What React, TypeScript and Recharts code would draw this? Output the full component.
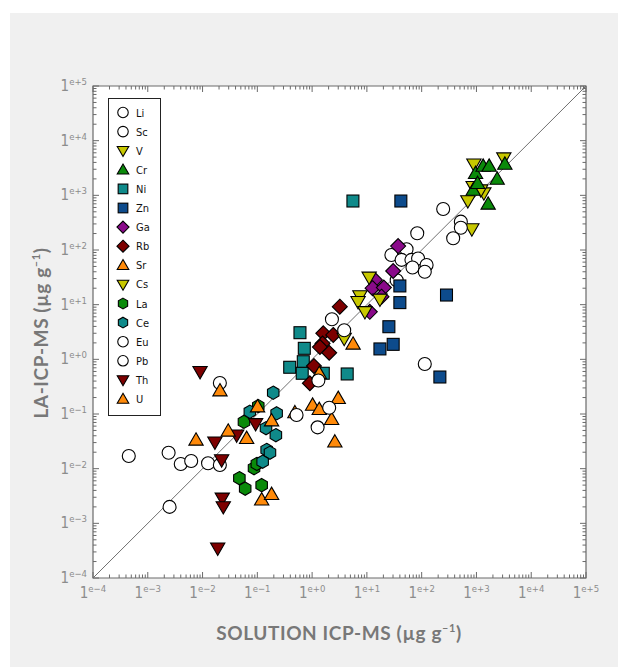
import React from "react";
import { CartesianGrid, Legend, ReferenceArea, Scatter, ScatterChart, XAxis, YAxis } from "recharts";

// values (µg/g), x = solution ICP-MS, y = LA-ICP-MS
const li = [
  { x: 28, y: 81 },
  { x: 53, y: 103 },
  { x: 43, y: 66 },
  { x: 65, y: 66 },
  { x: 86, y: 70 },
];
const sc = [
  { x: 68, y: 48 },
  { x: 123, y: 53 },
  { x: 114, y: 40 },
  { x: 35, y: 28 },
  { x: 114, y: 0.82 },
];
const v = [
  { x: 3160, y: 4800 },
  { x: 898, y: 3700 },
  { x: 1365, y: 1100 },
  { x: 1200, y: 1250 },
  { x: 697, y: 790 },
  { x: 824, y: 242 },
  { x: 870, y: 1440 },
];
const cr = [
  { x: 963, y: 2530 },
  { x: 1325, y: 3440 },
  { x: 1706, y: 3440 },
  { x: 3300, y: 3740 },
  { x: 2390, y: 1990 },
  { x: 871, y: 1250 },
  { x: 1050, y: 1660 },
  { x: 1636, y: 695 },
];
const ni = [
  { x: 5.56, y: 787 },
  { x: 0.6, y: 3.07 },
  { x: 0.72, y: 1.59 },
  { x: 0.69, y: 0.905 },
  { x: 0.39, y: 0.716 },
  { x: 0.66, y: 0.556 },
  { x: 1.6, y: 0.556 },
  { x: 4.37, y: 0.54 },
];
const zn = [
  { x: 41.7, y: 787 },
  { x: 40, y: 22 },
  { x: 40, y: 10.9 },
  { x: 284, y: 15 },
  { x: 25.2, y: 3.95 },
  { x: 17.3, y: 1.55 },
  { x: 30.2, y: 1.88 },
  { x: 215, y: 0.475 },
];
const ga = [
  { x: 37.2, y: 118 },
  { x: 30.2, y: 41.3 },
  { x: 14, y: 28.3 },
  { x: 12.7, y: 20 },
  { x: 20.4, y: 20.5 },
  { x: 18.5, y: 14 },
  { x: 11.3, y: 7.4 },
];
const rb = [
  { x: 3.2, y: 9.2 },
  { x: 1.6, y: 3.0 },
  { x: 2.43, y: 2.79 },
  { x: 1.55, y: 1.95 },
  { x: 1.39, y: 1.68 },
  { x: 2.05, y: 1.32 },
  { x: 1.08, y: 0.755 },
  { x: 0.91, y: 0.365 },
];
const sr = [
  { x: 5.6, y: 1.91 },
  { x: 1.35, y: 0.556 },
  { x: 3.0, y: 0.194 },
  { x: 2.27, y: 0.08 },
  { x: 2.6, y: 0.031 },
  { x: 1.02, y: 0.146 },
  { x: 1.35, y: 0.122 },
  { x: 0.485, y: 0.106 },
];
const cs = [
  { x: 11, y: 31.7 },
  { x: 7.45, y: 14.4 },
  { x: 6.9, y: 11.3 },
  { x: 9.2, y: 7.4 },
  { x: 17.3, y: 12.5 },
  { x: 3.85, y: 2.4 },
];
const la = [
  { x: 0.057, y: 0.072 },
  { x: 0.104, y: 0.14 },
  { x: 0.047, y: 0.0067 },
  { x: 0.06, y: 0.0043 },
  { x: 0.12, y: 0.005 },
  { x: 0.087, y: 0.0102 },
  { x: 0.098, y: 0.0122 },
];
const ce = [
  { x: 0.195, y: 0.245 },
  { x: 0.073, y: 0.11 },
  { x: 0.225, y: 0.103 },
  { x: 0.144, y: 0.055 },
  { x: 0.218, y: 0.041 },
  { x: 0.148, y: 0.022 },
  { x: 0.17, y: 0.0196 },
  { x: 0.125, y: 0.0134 },
];
const eu = [
  { x: 0.00045, y: 0.017 },
  { x: 0.0024, y: 0.0195 },
  { x: 0.004, y: 0.0122 },
  { x: 0.0062, y: 0.0138 },
  { x: 0.0126, y: 0.0126 },
  { x: 0.0207, y: 0.0117 },
  { x: 0.0025, y: 0.002 },
  { x: 0.0207, y: 0.37 },
  { x: 0.52, y: 0.096 },
  { x: 1.26, y: 0.057 },
  { x: 2.05, y: 0.13 },
  { x: 1.3, y: 0.41 },
];
const pb = [
  { x: 247, y: 562 },
  { x: 83, y: 202 },
  { x: 519, y: 330 },
  { x: 519, y: 256 },
  { x: 376, y: 164 },
  { x: 2.3, y: 5.4 },
  { x: 3.85, y: 3.4 },
];
const th = [
  { x: 0.009, y: 0.594 },
  { x: 0.0168, y: 0.0304 },
  { x: 0.0223, y: 0.0144 },
  { x: 0.042, y: 0.041 },
  { x: 0.093, y: 0.066 },
  { x: 0.0229, y: 0.00287 },
  { x: 0.0239, y: 0.002 },
  { x: 0.0189, y: 0.00035 },
];
const u = [
  { x: 0.0208, y: 0.267 },
  { x: 0.101, y: 0.136 },
  { x: 0.0076, y: 0.0335 },
  { x: 0.0294, y: 0.049 },
  { x: 0.0638, y: 0.036 },
  { x: 0.182, y: 0.0755 },
  { x: 0.12, y: 0.0027 },
  { x: 0.182, y: 0.0034 },
];
const oneToOne = [
  { x: 1e-4, y: 1e-4 },
  { x: 1e5, y: 1e5 },
];

const majorTicks = [1e-4, 1e-3, 1e-2, 1e-1, 1, 1e1, 1e2, 1e3, 1e4, 1e5];
const tickLabels = ["e\u22124", "e\u22123", "e\u22122", "e\u22121", "e+0", "e+1", "e+2", "e+3", "e+4", "e+5"];
const allTicks = majorTicks.flatMap((t, i) =>
  i === majorTicks.length - 1 ? [t] : [1, 2, 3, 4, 5, 6, 7, 8, 9].map((m) => m * t)
);

const W = 618;
const H = 667;
const X_AXIS_H = 30;
const Y_AXIS_W = 40;
const M = { top: 86, right: 32, bottom: 89 - X_AXIS_H, left: 93 - Y_AXIS_W };
const PW = W - 93 - M.right;
const PH = H - M.top - 89;
const AXIS = "#6a6a6a";
const TICK_FONT = "'Liberation Sans Narrow', 'DejaVu Sans Condensed', 'Arial Narrow', Arial, sans-serif";

type Kind = "circle" | "up" | "down" | "square" | "diamond" | "hex";

const series: { name: string; data: any[]; kind: Kind; fill: string }[] = [
  { name: "Li", data: li, kind: "circle", fill: "#ffffff" },
  { name: "Sc", data: sc, kind: "circle", fill: "#ffffff" },
  { name: "V", data: v, kind: "down", fill: "#c8c800" },
  { name: "Cr", data: cr, kind: "up", fill: "#0a8a0a" },
  { name: "Ni", data: ni, kind: "square", fill: "#0f8a8a" },
  { name: "Zn", data: zn, kind: "square", fill: "#0d4b8c" },
  { name: "Ga", data: ga, kind: "diamond", fill: "#8a0a8a" },
  { name: "Rb", data: rb, kind: "diamond", fill: "#7d0000" },
  { name: "Sr", data: sr, kind: "up", fill: "#ff8a0a" },
  { name: "Cs", data: cs, kind: "down", fill: "#c8c800" },
  { name: "La", data: la, kind: "hex", fill: "#0a8a0a" },
  { name: "Ce", data: ce, kind: "hex", fill: "#0f8a8a" },
  { name: "Eu", data: eu, kind: "circle", fill: "#ffffff" },
  { name: "Pb", data: pb, kind: "circle", fill: "#ffffff" },
  { name: "Th", data: th, kind: "down", fill: "#7d0000" },
  { name: "U", data: u, kind: "up", fill: "#ff8a0a" },
];

const Marker = ({ kind, cx, cy, s, fill }: { kind: Kind; cx: number; cy: number; s: number; fill: string }) => {
  const r = s / 2;
  const common = { fill, stroke: "#000", strokeWidth: 1.1 };
  const pts = (arr: number[][]) => arr.map((p) => p.join(",")).join(" ");
  switch (kind) {
    case "circle":
      return <circle cx={cx} cy={cy} r={r} {...common} />;
    case "square":
      return <rect x={cx - r * 0.92} y={cy - r * 0.92} width={s * 0.92} height={s * 0.92} {...common} />;
    case "diamond":
      return (
        <polygon
          points={pts([[cx, cy - r * 1.15], [cx + r * 1.15, cy], [cx, cy + r * 1.15], [cx - r * 1.15, cy]])}
          {...common}
        />
      );
    case "up":
      return (
        <polygon points={pts([[cx, cy - r * 1.1], [cx + r * 1.1, cy + r * 0.8], [cx - r * 1.1, cy + r * 0.8]])} {...common} />
      );
    case "down":
      return (
        <polygon points={pts([[cx, cy + r * 1.1], [cx + r * 1.1, cy - r * 0.8], [cx - r * 1.1, cy - r * 0.8]])} {...common} />
      );
    case "hex": {
      const hr = r * 1.02;
      const arr = [0, 1, 2, 3, 4, 5].map((k) => {
        const a = (Math.PI / 3) * k - Math.PI / 2;
        return [cx + hr * Math.cos(a), cy + hr * Math.sin(a)];
      });
      return <polygon points={pts(arr)} {...common} />;
    }
  }
  return null;
};

const isMajor = (val: number) => Math.abs(Math.log10(val) - Math.round(Math.log10(val))) < 1e-6;
const labelFor = (val: number) => tickLabels[Math.round(Math.log10(val)) + 4];

const XTick = (props: any) => {
  const { x, y, payload } = props;
  const major = isMajor(payload.value);
  const len = major ? 6 : 3.5;
  return (
    <g>
      <line x1={x} x2={x} y1={y} y2={y - len} stroke={AXIS} />
      <line x1={x} x2={x} y1={y - PH} y2={y - PH + len} stroke={AXIS} />
      {major && (
        <text x={x} y={y + 20} textAnchor="middle" fill="#8c8c8c" fontFamily={TICK_FONT} fontSize={15}>
          1
          <tspan dy={-6} fontSize={9.5}>
            {labelFor(payload.value)}
          </tspan>
        </text>
      )}
    </g>
  );
};

const YTick = (props: any) => {
  const { x, y, payload } = props;
  const major = isMajor(payload.value);
  const len = major ? 6 : 3.5;
  return (
    <g>
      <line x1={x} x2={x + len} y1={y} y2={y} stroke={AXIS} />
      <line x1={x + PW} x2={x + PW - len} y1={y} y2={y} stroke={AXIS} />
      {major && (
        <text x={x - 6} y={y + 5} textAnchor="end" fill="#8c8c8c" fontFamily={TICK_FONT} fontSize={15}>
          1
          <tspan dy={-6} fontSize={9.5}>
            {labelFor(payload.value)}
          </tspan>
        </text>
      )}
    </g>
  );
};

const LegendBox = () => (
  <div
    style={{
      width: 53,
      height: 318,
      boxSizing: "border-box",
      border: "1px solid #222",
      background: "#fff",
    }}
  >
    <svg width={51} height={316} style={{ display: "block" }}>
      {series.map((s, i) => {
        const cy = 13.5 + i * 19.1;
        return (
          <g key={s.name}>
            <Marker kind={s.kind} cx={14} cy={cy} s={10.5} fill={s.fill} />
            <text x={27} y={cy + 4} fontSize={11} fontFamily={TICK_FONT} fill="#111">
              {s.name}
            </text>
          </g>
        );
      })}
    </svg>
  </div>
);

const titleStyle: React.CSSProperties = {
  position: "absolute",
  fontFamily: "Lato, 'Open Sans', sans-serif",
  fontWeight: 700,
  fontSize: 19,
  letterSpacing: 0.6,
  color: "#787878",
  whiteSpace: "nowrap",
};

export default function App() {
  return (
    <div style={{ position: "absolute", left: 0, top: 0, width: W, height: H, background: "#fff" }}>
      <div style={{ position: "absolute", left: 10, top: 13, width: W - 10, height: H - 13, background: "#f0f0f0" }} />
      <div style={{ position: "absolute", left: 0, top: 0 }}>
        <ScatterChart width={W} height={H} margin={M}>
          <CartesianGrid horizontal={false} vertical={false} fill="#ffffff" />
          <XAxis
            type="number"
            dataKey="x"
            scale="log"
            domain={[1e-4, 1e5]}
            allowDataOverflow
            ticks={allTicks}
            interval={0}
            height={X_AXIS_H}
            tickSize={0}
            tickMargin={0}
            axisLine={false}
            tickLine={false}
            tick={<XTick />}
          />
          <YAxis
            type="number"
            dataKey="y"
            scale="log"
            domain={[1e-4, 1e5]}
            allowDataOverflow
            ticks={allTicks}
            interval={0}
            width={Y_AXIS_W}
            tickSize={0}
            tickMargin={0}
            axisLine={false}
            tickLine={false}
            tick={<YTick />}
          />
          <Scatter
            name="1:1"
            data={oneToOne}
            line={{ stroke: "#707070", strokeWidth: 1 }}
            shape={() => <g />}
            legendType="none"
            isAnimationActive={false}
          />
          {series.map((s) => (
            <Scatter
              key={s.name}
              name={s.name}
              data={s.data}
              isAnimationActive={false}
              shape={(p: any) => <Marker kind={s.kind} cx={p.cx} cy={p.cy} s={13} fill={s.fill} />}
            />
          ))}
          <ReferenceArea x1={1e-4} x2={1e5} y1={1e-4} y2={1e5} fill="none" stroke={AXIS} strokeWidth={1.2} />
          <Legend
            layout="vertical"
            align="center"
            verticalAlign="middle"
            content={() => <LegendBox />}
            wrapperStyle={{ left: 108, top: 98, width: 53, height: 318 }}
          />
        </ScatterChart>
      </div>
      <div style={{ ...titleStyle, left: 339, top: 632, transform: "translate(-50%, -50%)" }}>
        SOLUTION ICP-MS (µg g<sup style={{ fontSize: 11 }}>–1</sup>)
      </div>
      <div style={{ ...titleStyle, left: 40, top: 333, transform: "translate(-50%, -50%) rotate(-90deg)" }}>
        LA-ICP-MS (µg g<sup style={{ fontSize: 11 }}>–1</sup>)
      </div>
    </div>
  );
}
